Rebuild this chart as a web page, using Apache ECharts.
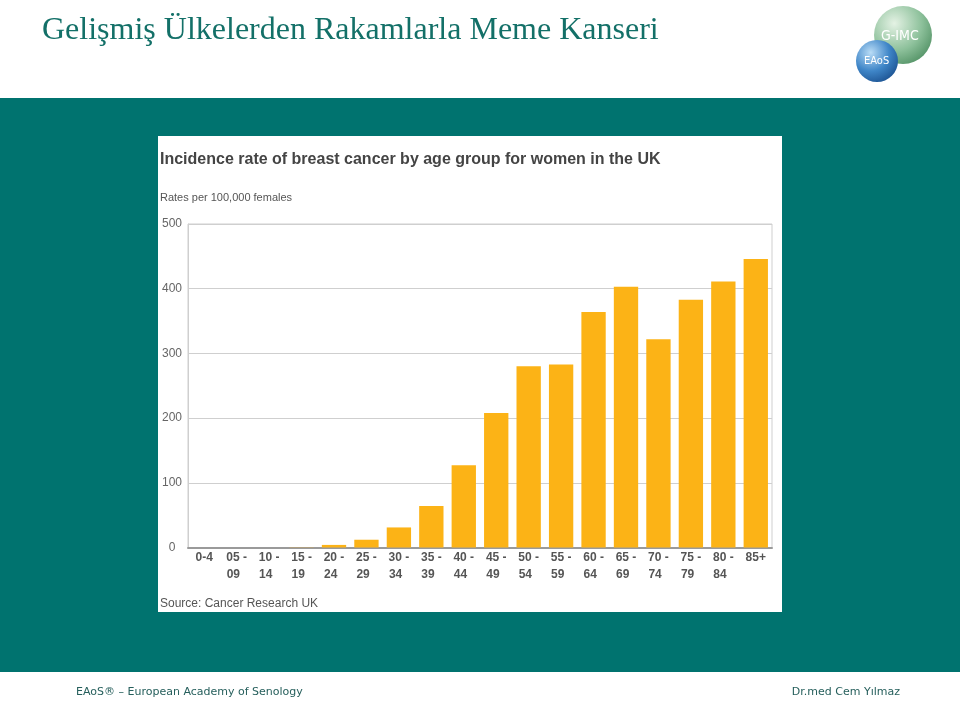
<!DOCTYPE html>
<html>
<head>
<meta charset="utf-8">
<script src="https://cdn.jsdelivr.net/npm/echarts@6/dist/echarts.min.js"></script>
<style>
html,body{margin:0;padding:0;background:#fff;}
#chart{width:960px;height:704px;}
</style>
</head>
<body>
<div id="chart"></div>
<script>
var categories = ['0-4','05 -\n09  ','10 -\n14  ','15 -\n19  ','20 -\n24  ','25 -\n29  ','30 -\n34  ','35 -\n39  ','40 -\n44  ','45 -\n49  ','50 -\n54  ','55 -\n59  ','60 -\n64  ','65 -\n69  ','70 -\n74  ','75 -\n79  ','80 -\n84  ','85+'];
var rates = [0, 0, 0, 0.3, 4, 12, 31, 64, 127, 208, 280, 283, 364, 403, 322, 383, 411, 446];
var yTicks = [0, 100, 200, 300, 400, 500];

var chart = echarts.init(document.getElementById('chart'), null, {renderer:'canvas'});
var teal = '#00736f';
var option = {
  animation: false,
  backgroundColor: '#ffffff',
  grid: {left: 188, right: 188, top: 224, bottom: 156.5, show: true, borderColor: '#cfcfcf', borderWidth: 1, backgroundColor: 'transparent'},
  xAxis: {
    type: 'category',
    data: categories,
    axisLine: {show: true, lineStyle: {color: '#9a9a9a', width: 2}},
    axisTick: {show: false},
    axisLabel: {interval: 0, color: '#555555', fontWeight: 'bold', fontFamily: 'Liberation Sans, Arial, sans-serif', fontSize: 12, lineHeight: 17, margin: 2}
  },
  yAxis: {
    type: 'value',
    min: yTicks[0], max: yTicks[yTicks.length-1], interval: 100,
    axisLine: {show: true, lineStyle: {color: '#cfcfcf', width: 1}},
    axisTick: {show: false},
    splitLine: {show: true, lineStyle: {color: '#cfcfcf', width: 1}},
    axisLabel: {color: '#666666', fontFamily: 'Liberation Sans, Arial, sans-serif', fontSize: 12, align: 'center', margin: 16}
  },
  series: [{
    type: 'bar',
    data: rates,
    barCategoryGap: '25%',
    itemStyle: {color: '#fcb316'},
    z: 3
  }],
  graphic: [
    {type: 'rect', z: -10, shape: {x: 0, y: 98, width: 960, height: 574}, style: {fill: teal}},
    {type: 'rect', z: -9, shape: {x: 158, y: 136, width: 624, height: 476}, style: {fill: '#ffffff'}},
    {type: 'text', z: 5, left: 42, top: 15, style: {text: 'Gelişmiş Ülkelerden Rakamlarla Meme Kanseri', fill: '#137068', font: '32px "Liberation Serif", "Times New Roman", serif'}},
    {type: 'text', z: 5, left: 160, top: 152, style: {text: 'Incidence rate of breast cancer by age group for women in the UK', fill: '#444444', font: 'bold 16px "Liberation Sans", Arial, sans-serif'}},
    {type: 'text', z: 5, left: 160, top: 192, style: {text: 'Rates per 100,000 females', fill: '#555555', font: '11px "Liberation Sans", Arial, sans-serif'}},
    {type: 'text', z: 5, left: 160, top: 598, style: {text: 'Source: Cancer Research UK', fill: '#555555', font: '12px "Liberation Sans", Arial, sans-serif'}},
    {type: 'text', z: 5, left: 76, top: 687, style: {text: 'EAoS® – European Academy of Senology', fill: '#265f5c', font: '11px "DejaVu Sans", Verdana, sans-serif'}},
    {type: 'text', z: 5, right: 60, top: 687, style: {text: 'Dr.med Cem Yılmaz', fill: '#265f5c', font: '11px "DejaVu Sans", Verdana, sans-serif'}},
    {type: 'circle', z: 5, shape: {cx: 903, cy: 35, r: 29}, style: {fill: {type: 'radial', x: 0.35, y: 0.3, r: 0.8, colorStops: [{offset: 0, color: '#e4f2e4'}, {offset: 0.6, color: '#8cc09a'}, {offset: 1, color: '#4f8f62'}]}}},
    {type: 'text', z: 6, left: 881, top: 29, style: {text: 'G-IMC', fill: '#ffffff', font: '14px "DejaVu Sans Condensed", sans-serif'}},
    {type: 'circle', z: 7, shape: {cx: 877, cy: 61, r: 21}, style: {fill: {type: 'radial', x: 0.35, y: 0.3, r: 0.8, colorStops: [{offset: 0, color: '#b9dcf6'}, {offset: 0.55, color: '#3f86c8'}, {offset: 1, color: '#1a4f8e'}]}}},
    {type: 'text', z: 8, left: 864, top: 56, style: {text: 'EAoS', fill: '#ffffff', font: '11px "DejaVu Sans Condensed", sans-serif'}}
  ]
};
chart.setOption(option);
</script>
</body>
</html>
